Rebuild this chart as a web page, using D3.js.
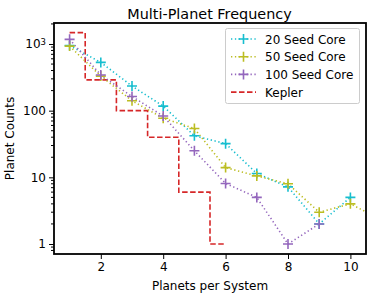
<!DOCTYPE html>
<html><head><meta charset="utf-8">
<script src="https://cdn.jsdelivr.net/npm/d3@7"></script>
<style>body{margin:0;background:#fff}svg{display:block}text{font-family:"DejaVu Sans",sans-serif;fill:#000}</style>
</head><body><div id="c"></div>
<script>
const planets = [1,2,3,4,5,6,7,8,9,10,11];
const seed20 = [950,530,234,117,42,32,11.4,7.2,2,5];
const seed50 = [930,330,141,77,54,14,10.5,8,3,4,2.3];
const seed100 = [1175,343,163,83,25,8.1,5,1,2];
const keplerX = [1,2,3,4,5,6];
const kepler = [1480,290,100,40,6,1];
const xTicks = [2,4,6,8,10];
const yTicks = [1,10,100,1000];
const seriesNames = ["20 Seed Core","50 Seed Core","100 Seed Core","Kepler"];
const colors = ["#17becf","#bcbd22","#9467bd","#d62728"];

const W=374,H=298, m={l:54,r:8,t:23,b:44};
const svg=d3.select("#c").append("svg").attr("width",W).attr("height",H);
const x=d3.scaleLinear().domain([0.5,10.5]).range([m.l,W-m.r]);
const y=d3.scaleLog().domain([0.708,2065]).range([H-m.b,m.t]);

svg.append("defs").append("clipPath").attr("id","cp").append("rect")
  .attr("x",m.l).attr("y",m.t).attr("width",W-m.r-m.l).attr("height",H-m.b-m.t);
const g=svg.append("g").attr("clip-path","url(#cp)");

const kline=d3.line().x(d=>x(d[0])).y(d=>y(d[1])).curve(d3.curveStep);
g.append("path").datum(keplerX.map((v,i)=>[v,kepler[i]])).attr("d",kline)
  .attr("fill","none").attr("stroke",colors[3]).attr("stroke-width",1.6).attr("stroke-dasharray","5.5,2.5");

const ser=[seed20,seed50,seed100];
const line=d3.line().x(d=>x(d[0])).y(d=>y(d[1]));
ser.forEach((s,k)=>{
  const pts=s.map((v,i)=>[planets[i],v]);
  g.append("path").datum(pts).attr("d",line).attr("fill","none").attr("stroke",colors[k])
    .attr("stroke-width",1.6).attr("stroke-dasharray","1.3,2.6");
});
ser.forEach((s,k)=>{
  s.forEach((v,i)=>{
    const cx=x(planets[i]),cy=y(v);
    g.append("path").attr("d",`M${cx-5},${cy}H${cx+5}M${cx},${cy-5}V${cy+5}`)
      .attr("stroke",colors[k]).attr("stroke-width",1.6);
  });
});

const FS=12;
const xa=svg.append("g").attr("transform",`translate(0,${H-m.b})`)
  .call(d3.axisBottom(x).tickValues(xTicks).tickSize(5).tickPadding(3));
xa.select(".domain").remove();
xa.selectAll("text").attr("font-size",FS).attr("font-family","DejaVu Sans");
const minor=[];
for(let d=0.1;d<=1000;d*=10){for(let k=2;k<=9;k++){const v=k*d;if(v>0.708&&v<2065)minor.push(v);}}
const ya=svg.append("g").attr("transform",`translate(${m.l},0)`)
  .call(d3.axisLeft(y).tickValues(yTicks).tickSize(5).tickPadding(3).tickFormat(()=>""));
ya.select(".domain").remove();
ya.selectAll(".tick text").each(function(d){
  const t=d3.select(this).attr("font-size",FS).attr("font-family","DejaVu Sans");
  if(d===1000){t.text("10");t.append("tspan").attr("dy","-0.45em").attr("font-size",8.5).text("3");}
  else t.text(d);
});
svg.append("g").attr("transform",`translate(${m.l},0)`)
  .selectAll("line").data(minor).join("line")
  .attr("x1",-3).attr("x2",0).attr("y1",d=>y(d)).attr("y2",d=>y(d)).attr("stroke","#000").attr("stroke-width",1);
svg.selectAll(".tick line").attr("stroke-width",1);

svg.append("rect").attr("x",m.l).attr("y",m.t).attr("width",W-m.r-m.l).attr("height",H-m.b-m.t)
  .attr("fill","none").attr("stroke","#000").attr("stroke-width",1.8);

svg.append("text").attr("x",209.5).attr("y",19).attr("text-anchor","middle").attr("font-size",14.4).text("Multi-Planet Frequency");
svg.append("text").attr("x",(m.l+W-m.r)/2).attr("y",290).attr("text-anchor","middle").attr("font-size",FS).text("Planets per System");
svg.append("text").attr("transform",`translate(14,${(m.t+H-m.b)/2}) rotate(-90)`).attr("text-anchor","middle").attr("font-size",FS).text("Planet Counts");

const lg=svg.append("g");
lg.append("rect").attr("x",225.5).attr("y",28.5).attr("width",134).attr("height",75).attr("rx",2)
  .attr("fill","#fff").attr("fill-opacity",0.8).attr("stroke","#ccc").attr("stroke-width",1);
seriesNames.forEach((n,i)=>{
  const yy=39+i*17.7;
  const l=lg.append("line").attr("x1",231).attr("x2",256).attr("y1",yy).attr("y2",yy).attr("stroke",colors[i]).attr("stroke-width",1.6);
  if(i<3){l.attr("stroke-dasharray","1.3,2.6");
    lg.append("path").attr("d",`M${238.5},${yy}H${248.5}M${243.5},${yy-5}V${yy+5}`).attr("stroke",colors[i]).attr("stroke-width",1.6);}
  else l.attr("stroke-dasharray","5.5,2.5");
  lg.append("text").attr("x",265).attr("y",yy+4.5).attr("font-size",FS).text(n);
});
</script></body></html>
